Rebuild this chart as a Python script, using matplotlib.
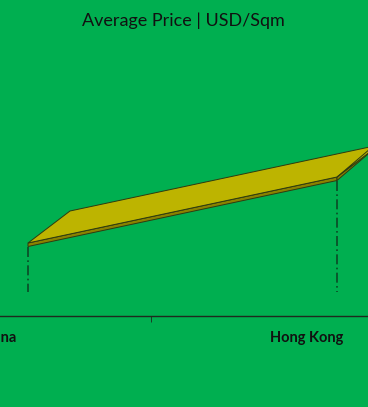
import matplotlib.pyplot as plt
import numpy as np

plt.rcParams['font.family'] = ['Lato', 'DejaVu Sans']

# data
cities = ["China", "Hong Kong", "Monaco"]
price = [7300, 13900, 40200]

bg = "#00af50"
top_col = "#bdb400"
side_col = "#8a8200"
edge_col = "#2e3a10"

fig = plt.figure(figsize=(3.68, 4.07), dpi=100)
fig.patch.set_facecolor(bg)
ax = fig.add_axes([0, 0, 1, 1])
ax.set_facecolor(bg)

# depth offset of the 3D ribbon and its thickness
dx, dy, thick = 42 / 309, 3200, 350
x = np.arange(len(cities))

for i in range(len(x) - 1):
    x0, x1 = x[i], x[i + 1]
    y0, y1 = price[i], price[i + 1]
    side = [(x0, y0), (x1, y1), (x1, y1 - thick), (x0, y0 - thick)]
    ax.add_patch(plt.Polygon(side, closed=True, facecolor=side_col,
                             edgecolor=edge_col, lw=0.7, zorder=2))
    top = [(x0, y0), (x1, y1), (x1 + dx, y1 + dy), (x0 + dx, y0 + dy)]
    ax.add_patch(plt.Polygon(top, closed=True, facecolor=top_col,
                             edgecolor=edge_col, lw=0.7, zorder=3))

# drop lines
for xi, yi in zip(x, price):
    ax.plot([xi, xi], [yi - thick, 2400], color="#0c4a26", lw=1.2,
            linestyle=(0, (6, 2, 1, 2)), zorder=1)

for s in ["top", "right", "left"]:
    ax.spines[s].set_visible(False)
ax.spines["bottom"].set_position(("data", 0))
ax.spines["bottom"].set_color("#1e2a1e")
ax.spines["bottom"].set_linewidth(1.0)
ax.set_yticks([])

xmin, xmax = -28 / 309, 340 / 309

# category labels sit between the tick marks, shifted by the 3D depth
shift = 30 / 309
ax.set_xticks([])
ax.set_xticks(x[:-1] + 0.5 - shift - 2 / 309, minor=True)
ax.tick_params(axis="x", which="minor", length=4, color="#1e2a1e", direction="out")
for xi, name in zip(x, cities):
    if xi - shift > xmax:
        continue  # this one falls outside the visible window
    ax.text(xi - shift, -2200, name, ha="center", va="center", fontsize=10.5,
            fontweight="bold", color="#111111", clip_on=True)

ax.set_xlim(xmin, xmax)
ax.set_ylim(-9100, 31600)

fig.text(0.497, 0.95, "Average Price | USD/Sqm", ha="center", va="center",
         fontsize=13, color="#111111")

fig.savefig("out.png", dpi=100, facecolor=bg)
